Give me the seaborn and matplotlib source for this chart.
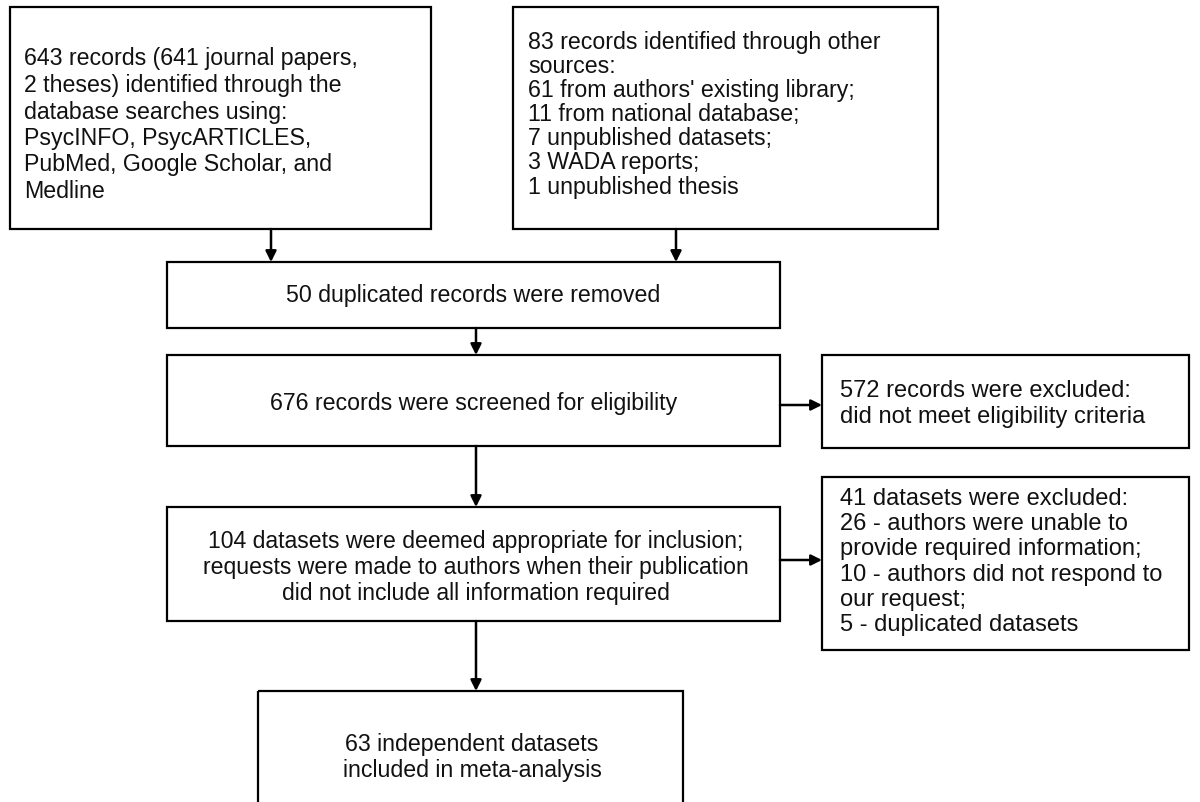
import matplotlib
matplotlib.use("Agg")
import matplotlib.pyplot as plt
import seaborn as sns
from matplotlib.patches import Rectangle

# ---- content ----
database_records = ["643 records (641 journal papers,", "2 theses) identified through the",
                    "database searches using:", "PsycINFO, PsycARTICLES,",
                    "PubMed, Google Scholar, and", "Medline"]
other_records = ["83 records identified through other", "sources:",
                 "61 from authors' existing library;", "11 from national database;",
                 "7 unpublished datasets;", "3 WADA reports;", "1 unpublished thesis"]
duplicates = ["50 duplicated records were removed"]
screened = ["676 records were screened for eligibility"]
excluded_records = ["572 records were excluded:", "did not meet eligibility criteria"]
appropriate = ["104 datasets were deemed appropriate for inclusion;",
               "requests were made to authors when their publication",
               "did not include all information required"]
excluded_datasets = ["41 datasets were excluded:", "26 - authors were unable to",
                     "provide required information;", "10 - authors did not respond to",
                     "our request;", "5 - duplicated datasets"]
included = ["63 independent datasets", "included in meta-analysis"]

sns.set_theme(style="white")
plt.rcParams['font.family'] = ['Liberation Sans', 'DejaVu Sans']

W, H = 1200, 803
fig = plt.figure(figsize=(W / 100, H / 100), dpi=100)
ax = fig.add_axes([0, 0, 1, 1])
ax.set_xlim(0, W)
ax.set_ylim(H, 0)
ax.axis("off")

# layout: (x0, y0, x1, y1, text, align, text_x, first_line_y, line_gap, size)
layout = [
    (10, 8, 431, 230, database_records, "left", 24, 59, 26.5, 16.7),
    (513, 8, 938, 230, other_records, "left", 528, 42, 24.2, 16.7),
    (167, 263, 780, 329, duplicates, "center", 473, 296, 25, 16.7),
    (167, 356, 780, 447, screened, "center", 474, 404, 25, 16.7),
    (822, 356, 1189, 449, excluded_records, "left", 840, 391, 26, 17.0),
    (167, 508, 780, 622, appropriate, "center", 476, 542, 26, 16.6),
    (822, 478, 1189, 651, excluded_datasets, "left", 840, 499, 25.2, 17.0),
    (258, 692, 683, 806, included, "center", 472, 745, 25.5, 16.7),
]

for x0, y0, x1, y1, lines, align, tx, ty, gap, size in layout:
    ax.add_patch(Rectangle((x0, y0), x1 - x0, y1 - y0, fill=False,
                           edgecolor="black", linewidth=1.6, zorder=2))
    for i, s in enumerate(lines):
        ax.text(tx, ty + i * gap, s, ha=align, va="center", fontsize=size,
                color="#111111")

arrows = [
    ((271, 230), (271, 263)),
    ((676, 230), (676, 263)),
    ((476, 329), (476, 356)),
    ((780, 406), (822, 406)),
    ((476, 447), (476, 508)),
    ((780, 561), (822, 561)),
    ((476, 622), (476, 692)),
]
for start, end in arrows:
    ax.annotate("", xy=end, xytext=start,
                arrowprops=dict(arrowstyle="-|>", color="black", lw=1.8,
                                mutation_scale=16, shrinkA=0, shrinkB=0))

fig.savefig("out.png", dpi=100, facecolor="white")
